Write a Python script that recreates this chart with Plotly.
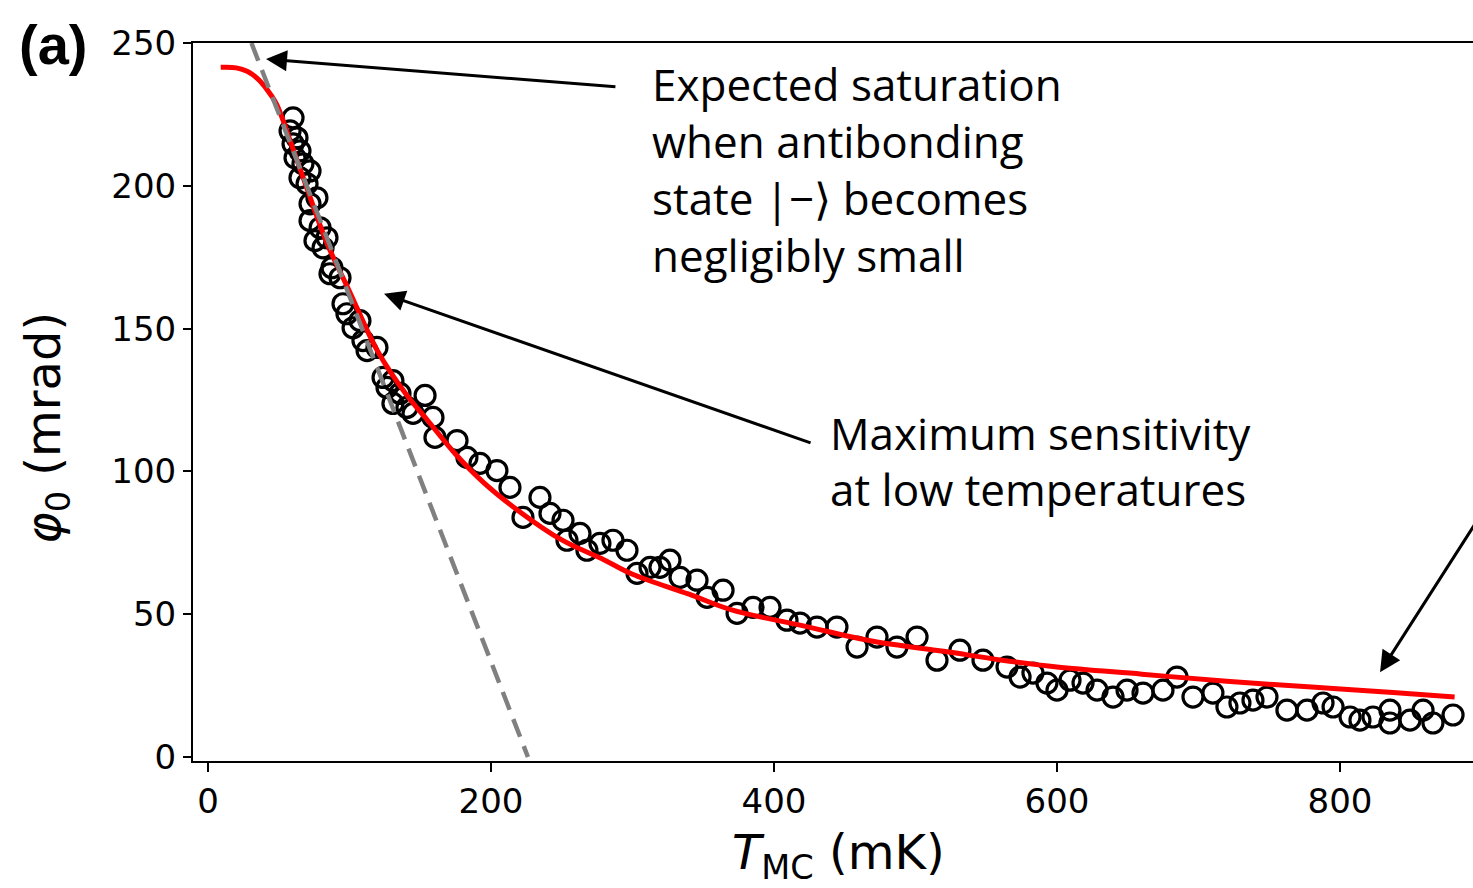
import plotly.graph_objects as go

# measured data (T in mK, phi0 in mrad)
T_data = [58.0, 60.1, 62.9, 60.1, 65.0, 61.5, 67.1, 72.1, 65.0, 70.0, 77.0, 72.1, 72.1, 79.2, 84.1,
          75.6, 81.3, 87.6, 86.2, 93.3, 95.4, 98.2, 107.4, 102.5, 109.5, 119.4, 112.4, 123.7, 130.7,
          126.5, 135.7, 130.7, 140.6, 144.9, 153.4, 159.0, 160.4, 176.0, 183.0, 192.2, 204.2, 213.4,
          222.6, 234.6, 241.7, 250.9, 253.7, 262.9, 267.8, 277.0, 286.2, 296.1, 303.2, 312.4, 319.4,
          326.5, 333.6, 345.6, 352.7, 364.0, 373.9, 385.2, 397.2, 409.2, 418.4, 430.4, 444.5, 458.7,
          472.8, 486.9, 501.1, 515.2, 531.4, 547.7, 564.7, 573.9, 583.0, 592.9, 600.0, 609.2, 618.4,
          628.3, 639.6, 649.5, 660.8, 674.9, 684.8, 696.1, 710.2, 720.1, 729.3, 738.5, 748.4, 762.5,
          776.7, 788.0, 795.1, 807.1, 814.1, 823.3, 835.3, 835.3, 849.5, 858.7, 865.7, 879.9]
phi_data = [219.2, 223.8, 216.8, 214.7, 212.2, 209.8, 207.7, 205.2, 202.8, 200.7, 195.8, 193.7, 187.8,
            185.3, 181.8, 180.8, 178.3, 171.3, 169.2, 167.8, 158.7, 155.2, 152.8, 150.3, 145.8, 143.4,
            142.3, 132.9, 131.8, 129.4, 127.3, 123.8, 122.4, 120.3, 126.6, 118.9, 111.9, 110.8, 104.9,
            102.8, 100.3, 94.4, 83.9, 90.9, 85.3, 82.9, 75.9, 78.3, 72.4, 74.8, 75.9, 72.4, 64.3, 66.4,
            66.4, 68.9, 62.9, 61.9, 55.9, 58.4, 50.3, 52.4, 52.4, 47.9, 46.9, 45.5, 45.5, 38.5, 42.0,
            38.5, 42.0, 33.9, 37.4, 33.9, 31.5, 28.0, 29.4, 25.9, 23.4, 26.9, 25.9, 23.4, 21.0, 23.4,
            22.4, 23.4, 28.0, 21.0, 22.4, 17.5, 18.9, 19.9, 21.0, 16.4, 16.4, 18.9, 17.5, 14.0, 12.9,
            14.0, 16.4, 11.9, 12.9, 16.4, 11.9, 14.7]

# fitted curve
T_fit = [9, 20, 28, 35, 42, 48, 53, 60, 70, 84, 100, 120, 140, 155, 175, 195, 220, 250, 280, 300,
         340, 370, 420, 470, 520, 560, 600, 660, 720, 780, 840, 881]
phi_fit = [241.5, 241.3, 240.0, 237.5, 233.5, 229.0, 223.0, 213.0, 199.0, 180.0, 163.0, 142.0, 127.0,
           118.0, 106.0, 96.0, 86.0, 76.0, 69.0, 64.0, 57.0, 51.5, 46.0, 40.5, 37.0, 34.0, 31.5, 29.0,
           26.5, 24.5, 22.5, 21.0]

# low-temperature linear guide
T_guide = [30.7, 226.1]
phi_guide = [250.0, 0.0]

x_ticks = [0, 200, 400, 600, 800]
y_ticks = [0, 50, 100, 150, 200, 250]

fig = go.Figure()
fig.add_trace(go.Scatter(x=T_data, y=phi_data, mode="markers",
                         marker=dict(symbol="circle-open", size=20, color="black",
                                     line=dict(width=3.2, color="black")),
                         showlegend=False))
fig.add_trace(go.Scatter(x=T_fit, y=phi_fit, mode="lines",
                         line=dict(color="#ff0000", width=5, shape="spline"),
                         showlegend=False))
fig.add_trace(go.Scatter(x=T_guide, y=phi_guide, mode="lines",
                         line=dict(color="#808080", width=4.5, dash="19px,10px"),
                         showlegend=False))

txt_font = dict(family="Open Sans", size=44, color="black")

def px_to_paper(px, py):
    return (px - 193) / 1280.0, (761 - py) / 718.0

anns = []
# text blocks
lines1 = ["Expected saturation", "when antibonding", "state |\u2212\u27e9 becomes", "negligibly small"]
for s, py in zip(lines1, [84, 141, 198, 255]):
    xp, yp = px_to_paper(650, py)
    anns.append(dict(x=xp, y=yp, xref="paper", yref="paper", text=s, showarrow=False,
                     xanchor="left", yanchor="middle", font=txt_font))
lines2 = ["Maximum sensitivity", "at low temperatures"]
for s, py in zip(lines2, [433, 489]):
    xp, yp = px_to_paper(828, py)
    anns.append(dict(x=xp, y=yp, xref="paper", yref="paper", text=s, showarrow=False,
                     xanchor="left", yanchor="middle", font=txt_font))

# arrows (head, tail in data coords)
arrows = [((41.0, 244.4), (289.0, 234.6)),
          ((124.4, 162.2), (426.9, 109.8)),
          ((828.3, 29.7), (905.0, 89.0))]
for (hx, hy), (tx, ty) in arrows:
    anns.append(dict(x=hx, y=hy, ax=tx, ay=ty, xref="x", yref="y", axref="x", ayref="y",
                     text="", showarrow=True, arrowhead=2, arrowsize=1.4, arrowwidth=3,
                     arrowcolor="black", standoff=0, startstandoff=0))

# panel label
xp, yp = px_to_paper(53, 45)
anns.append(dict(x=xp, y=yp, xref="paper", yref="paper", text="<b>(a)</b>", showarrow=False,
                 xanchor="center", yanchor="middle",
                 font=dict(family="Liberation Sans", size=56, color="black")))
# axis titles
xp, yp = px_to_paper(838, 855)
anns.append(dict(x=xp, y=yp, xref="paper", yref="paper",
                 text="<i>T</i><sub>MC</sub> (mK)", showarrow=False,
                 xanchor="center", yanchor="middle",
                 font=dict(family="DejaVu Sans", size=48, color="black")))
xp, yp = px_to_paper(46, 428)
anns.append(dict(x=xp, y=yp, xref="paper", yref="paper",
                 text="<i>\u03c6</i><sub>0</sub> (mrad)", showarrow=False, textangle=-90,
                 xanchor="center", yanchor="middle",
                 font=dict(family="DejaVu Sans", size=48, color="black")))

fig.update_layout(
    width=1473, height=888,
    margin=dict(l=193, r=0, t=43, b=127, pad=0),
    paper_bgcolor="white", plot_bgcolor="white",
    annotations=anns,
    xaxis=dict(range=[-10.6, 894.0], tickvals=x_ticks, ticktext=[str(v) for v in x_ticks],
               showgrid=False, zeroline=False, showline=True, linecolor="black", linewidth=2,
               mirror=True, ticks="outside", ticklen=9, tickwidth=2, tickcolor="black",
               tickfont=dict(family="DejaVu Sans", size=34, color="black")),
    yaxis=dict(range=[-1.4, 250.0], tickvals=y_ticks, ticktext=[str(v) for v in y_ticks],
               showgrid=False, zeroline=False, showline=True, linecolor="black", linewidth=2,
               ticks="outside", ticklen=8, tickwidth=2, tickcolor="black",
               tickfont=dict(family="DejaVu Sans", size=34, color="black")),
    font=dict(family="DejaVu Sans", color="black"),
)

fig.write_html("out.html")
